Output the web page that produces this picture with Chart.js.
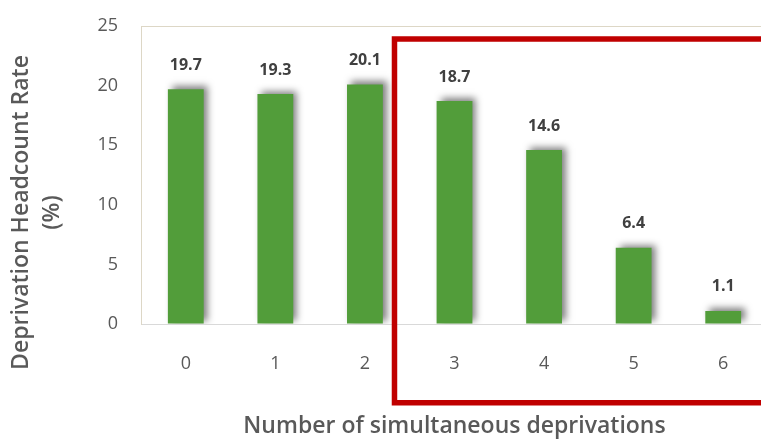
<!DOCTYPE html>
<html lang="en">
<head>
  <meta charset="UTF-8">
  <title>Deprivation Headcount Rate</title>
  <script src="https://cdn.jsdelivr.net/npm/chart.js"></script>
  <style>
    html, body {
      margin: 0;
      padding: 0;
      background: #fff;
      overflow: hidden;
    }
    #wrap {
      width: 768px;
      height: 439px;
    }
  </style>
</head>
<body>
  <div id="wrap"><canvas id="chart"></canvas></div>

  <script>
    // data
    const categories = ['0', '1', '2', '3', '4', '5', '6'];
    const rates = [19.7, 19.3, 20.1, 18.7, 14.6, 6.4, 1.1];
    const yTicks = [0, 5, 10, 15, 20, 25];

    const FONT = '"Open Sans", sans-serif';
    const GREY = '#595959';
    const SP = '\u2002'.repeat(6) + ' '; // pushes rotated title down a bit

    // soft shadow behind the bars
    const barShadow = {
      id: 'barShadow',
      beforeDatasetsDraw(chart) {
        const c = chart.ctx;
        c.save();
        c.shadowColor = 'rgba(0,0,0,0.5)';
        c.shadowBlur = 7;
        c.shadowOffsetX = 4;
        c.shadowOffsetY = -3;
      },
      afterDatasetsDraw(chart) {
        chart.ctx.restore();
      }
    };

    // value labels on top of bars
    const valueLabels = {
      id: 'valueLabels',
      afterDatasetsDraw(chart) {
        const c = chart.ctx;
        const meta = chart.getDatasetMeta(0);
        c.save();
        c.font = 'bold 16px ' + FONT;
        c.fillStyle = '#404040';
        c.textAlign = 'center';
        c.textBaseline = 'middle';
        meta.data.forEach((bar, i) => {
          c.fillText(rates[i].toFixed(1), bar.x, bar.y - 24);
        });
        c.restore();
      }
    };

    // red highlight box round categories 3..6
    const highlight = {
      id: 'highlight',
      afterDraw(chart) {
        const x = chart.scales.x, y = chart.scales.y;
        const step = x.getPixelForValue(3) - x.getPixelForValue(2);
        const left = x.getPixelForValue(2) + step * 0.33;
        const top = y.getPixelForValue(23.9);
        const bottom = y.getPixelForValue(-6.6);
        const c = chart.ctx;
        c.save();
        c.strokeStyle = '#C00000';
        c.lineWidth = 5.5;
        c.beginPath();
        c.moveTo(chart.width + 10, top);
        c.lineTo(left, top);
        c.lineTo(left, bottom);
        c.lineTo(chart.width + 10, bottom);
        c.stroke();
        c.restore();
      }
    };

    new Chart(document.getElementById('chart'), {
      type: 'bar',
      data: {
        labels: categories,
        datasets: [{
          data: rates,
          backgroundColor: '#529D3A',
          borderWidth: 0,
          barPercentage: 0.4,
          categoryPercentage: 1.0
        }]
      },
      options: {
        responsive: true,
        maintainAspectRatio: false,
        animation: false,
        layout: { padding: { top: 26, left: 0, right: 0, bottom: 0 } },
        plugins: {
          legend: { display: false },
          tooltip: { enabled: false }
        },
        scales: {
          x: {
            grid: { display: false, drawTicks: false },
            border: { display: false },
            ticks: {
              color: GREY,
              font: { family: FONT, size: 18 },
              padding: 29
            },
            title: {
              display: true,
              text: 'Number of simultaneous deprivations',
              color: GREY,
              font: { family: FONT, size: 23, weight: '600', lineHeight: 1 },
              padding: { top: 0, bottom: 1 }
            },
            afterFit(s) { s.height = 115; s.paddingLeft = 0; s.paddingRight = 0; }
          },
          y: {
            min: 0,
            max: 25,
            afterBuildTicks(s) { s.ticks = yTicks.map(v => ({ value: v })); },
            grid: {
              drawTicks: false,
              color: ctx => ctx.tick.value === 0 ? '#d9d9d9'
                : ctx.tick.value === 25 ? '#ddd7c6' : 'rgba(0,0,0,0)'
            },
            border: { color: '#ddd7c6', width: 1 },
            ticks: {
              color: GREY,
              font: { family: FONT, size: 18 },
              padding: 23
            },
            title: {
              display: true,
              text: ['Deprivation Headcount Rate' + SP, '(%)' + SP],
              color: GREY,
              font: { family: FONT, size: 23, weight: '600', lineHeight: 1.35 },
              padding: { top: 6, bottom: 0 }
            },
            afterFit(s) { s.width = 141; s.paddingTop = 0; s.paddingBottom = 0; }
          }
        }
      },
      plugins: [barShadow, valueLabels, highlight]
    });
  </script>
</body>
</html>
